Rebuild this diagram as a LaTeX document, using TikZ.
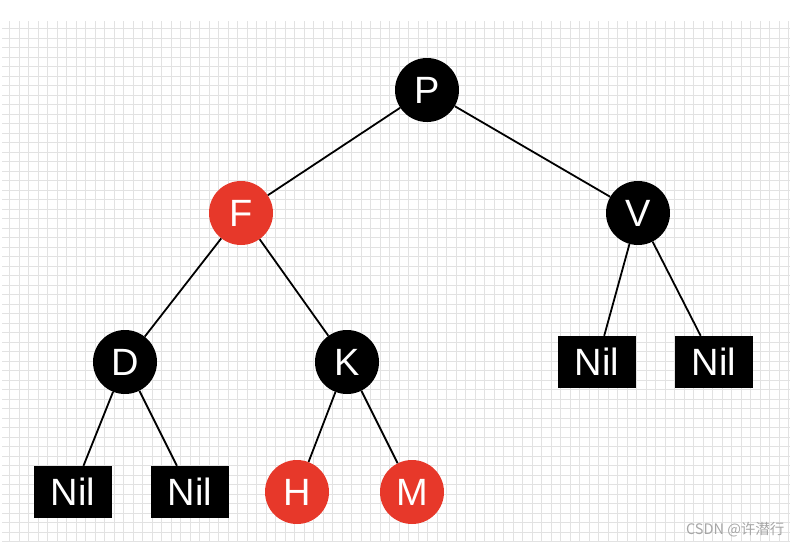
\documentclass[tikz,border=0pt]{standalone}
\usepackage{fontspec}
\setmainfont{Liberation Sans}
\newfontfamily\cjk{Noto Sans CJK SC}
\definecolor{rbred}{RGB}{231,56,42}
\definecolor{gridgray}{RGB}{226,226,226}
\usetikzlibrary{positioning}

\begin{document}
\begin{tikzpicture}[x=1pt,y=-1pt,
    blk/.style={circle,fill=black,text=white,minimum size=64pt,inner sep=0pt,
                font=\fontsize{38}{40}\selectfont},
    red/.style={blk,fill=rbred},
    nil/.style={rectangle,fill=black,text=white,minimum width=78pt,
                minimum height=52pt,inner sep=0pt,
                font=\fontsize{38}{40}\selectfont},
    edge/.style={line width=1.8pt},
]
\useasboundingbox (0,0) rectangle (803,552);

% ---- Grid ----------------------------------------------------------------
\draw[gridgray,line width=0.6pt,step=9.5pt] (2,21) grid (790,542);

% ---- Inner nodes ---------------------------------------------------------
\node[blk] (nP) at (427,90)  {P};
\node[red] (nF) at (241,213) {F};
\node[blk] (nV) at (638,213) {V};
\node[blk] (nD) at (125,362) {D};
\node[blk] (nK) at (347,362) {K};
\node[red] (nH) at (297,492) {H};
\node[red] (nM) at (412,492) {M};

% ---- Leaves --------------------------------------------------------------
\node[nil] (nil1) at (73,492)  {Nil};
\node[nil] (nil2) at (190,492) {Nil};
\node[nil] (nil3) at (597,362) {Nil};
\node[nil] (nil4) at (714,362) {Nil};

% ---- Edges ---------------------------------------------------------------
\draw[edge] (nP) -- (nF);
\draw[edge] (nP) -- (nV);
\draw[edge] (nF) -- (nD);
\draw[edge] (nF) -- (nK);
\draw[edge] (nD) -- (nil1);
\draw[edge] (nD) -- (nil2);
\draw[edge] (nK) -- (nH);
\draw[edge] (nK) -- (nM);
\draw[edge] (nV) -- (nil3);
\draw[edge] (nV) -- (nil4);

% ---- Watermark
\node[anchor=east,text=gray!70,font=\cjk\fontsize{14.5}{16}\selectfont]
    (mark) at (788,530) {CSDN @许潜行};

\end{tikzpicture}
\end{document}
